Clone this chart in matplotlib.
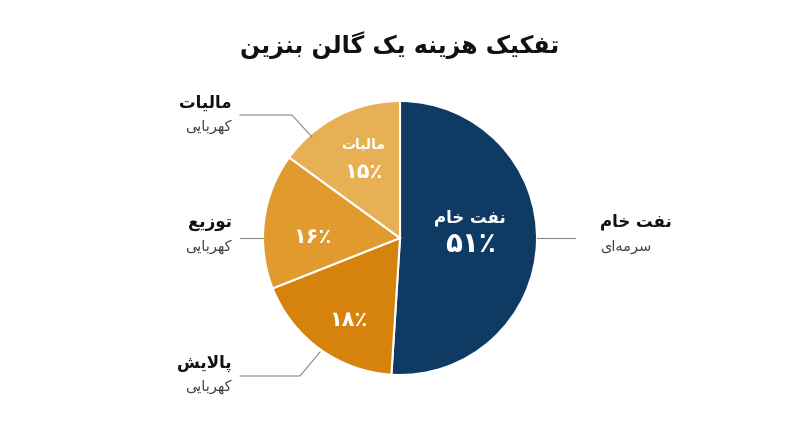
import matplotlib
matplotlib.use("Agg")
import matplotlib.pyplot as plt
import numpy as np

title = "تفکیک هزینه یک گالن بنزین"
categories = ["نفت خام", "پالایش", "توزیع", "مالیات"]
subs = ["سرمه‌ای", "کهربایی", "کهربایی", "کهربایی"]
values = [51, 18, 16, 15]
pct_labels = ["۵۱٪", "۱۸٪", "۱۶٪", "۱۵٪"]
colors = ["#0e3a63", "#d5830c", "#e09a2e", "#e8b055"]

# --- minimal Arabic/Persian shaping (iso, fin, ini, med) ---
F = {
 'ا': ('\uFE8D', '\uFE8E', None, None), 'ب': ('\uFE8F', '\uFE90', '\uFE91', '\uFE92'),
 'پ': ('\uFB56', '\uFB57', '\uFB58', '\uFB59'), 'ت': ('\uFE95', '\uFE96', '\uFE97', '\uFE98'),
 'خ': ('\uFEA5', '\uFEA6', '\uFEA7', '\uFEA8'), 'ر': ('\uFEAD', '\uFEAE', None, None),
 'ز': ('\uFEAF', '\uFEB0', None, None), 'س': ('\uFEB1', '\uFEB2', '\uFEB3', '\uFEB4'),
 'ش': ('\uFEB5', '\uFEB6', '\uFEB7', '\uFEB8'), 'ع': ('\uFEC9', '\uFECA', '\uFECB', '\uFECC'),
 'ف': ('\uFED1', '\uFED2', '\uFED3', '\uFED4'), 'ک': ('\uFB8E', '\uFB8F', '\uFB90', '\uFB91'),
 'گ': ('\uFB92', '\uFB93', '\uFB94', '\uFB95'), 'ل': ('\uFEDD', '\uFEDE', '\uFEDF', '\uFEE0'),
 'م': ('\uFEE1', '\uFEE2', '\uFEE3', '\uFEE4'), 'ن': ('\uFEE5', '\uFEE6', '\uFEE7', '\uFEE8'),
 'ه': ('\uFEE9', '\uFEEA', '\uFEEB', '\uFEEC'), 'و': ('\uFEED', '\uFEEE', None, None),
 'ی': ('\uFBFC', '\uFBFD', '\uFBFE', '\uFBFF'),
}

def shape(s):
    # lam-alef ligature
    chars = []
    i = 0
    while i < len(s):
        if s[i] == 'ل' and i + 1 < len(s) and s[i + 1] == 'ا':
            chars.append('LA'); i += 2
        else:
            chars.append(s[i]); i += 1
    def dual(c):
        return c in F and F[c][2] is not None
    def joins(c):
        return c in F or c == 'LA'
    out = []
    for k, c in enumerate(chars):
        prev = chars[k - 1] if k > 0 else None
        nxt = chars[k + 1] if k + 1 < len(chars) else None
        jp = prev is not None and dual(prev)
        if c == 'LA':
            out.append('\uFEFC' if jp else '\uFEFB'); continue
        if c not in F:
            out.append('' if c == '\u200c' else c); continue
        jn = dual(c) and nxt is not None and joins(nxt)
        iso, fin, ini, med = F[c]
        if jp and jn: out.append(med)
        elif jp: out.append(fin)
        elif jn: out.append(ini)
        else: out.append(iso)
    return ''.join(out)[::-1]

FONT = "DejaVu Sans"
fig = plt.figure(figsize=(8, 4.47), dpi=100)
ax = fig.add_axes([0, 0, 1, 1])
ax.set_xlim(0, 800); ax.set_ylim(0, 447); ax.set_aspect('equal'); ax.axis('off')

cx, cy, r = 400, 447 - 238, 137
wedges, _ = ax.pie(values, colors=colors, startangle=90, counterclock=False,
                   center=(cx, cy), radius=r, wedgeprops=dict(edgecolor='white', linewidth=1.5))
ax.set_xlim(0, 800); ax.set_ylim(0, 447)

ax.text(400, 447 - 45, shape(title), ha='center', va='center', fontsize=17, fontweight='bold', family=FONT, color='#111111')

# inner labels
inner = [(470, 218, 244, 12, 20), (348, None, 320, 0, 15), (312, None, 237, 0, 15), (363, 145, 172, 10, 15)]
for i, (x, yt, yp, fs1, fs2) in enumerate(inner):
    if yt is not None:
        ax.text(x, 447 - yt, shape(categories[i]), ha='center', va='center', fontsize=fs1, fontweight='bold', color='white', family=FONT)
    ax.text(x, 447 - yp, pct_labels[i], ha='center', va='center', fontsize=fs2, fontweight='bold', color='white', family=FONT)

# outer labels with leader lines
outer = [
    dict(tx=600, ty=222, ha='left', line=[(537, 238), (575, 238)]),
    dict(tx=232, ty=363, ha='right', line=[(240, 376), (300, 376), (320, 352)]),
    dict(tx=232, ty=222, ha='right', line=[(240, 238), (263, 238)]),
    dict(tx=232, ty=103, ha='right', line=[(240, 115), (292, 115), (312, 137)]),
]
for i, o in enumerate(outer):
    ax.text(o['tx'], 447 - o['ty'], shape(categories[i]), ha=o['ha'], va='center', fontsize=12, fontweight='bold', color='#111111', family=FONT)
    ax.text(o['tx'], 447 - o['ty'] - 24, shape(subs[i]), ha=o['ha'], va='center', fontsize=10.5, color='#444444', family=FONT)
    xs = [p[0] for p in o['line']]; ys = [447 - p[1] for p in o['line']]
    ax.plot(xs, ys, color='#888888', lw=0.8)

fig.savefig("out.png", dpi=100, facecolor='white')
